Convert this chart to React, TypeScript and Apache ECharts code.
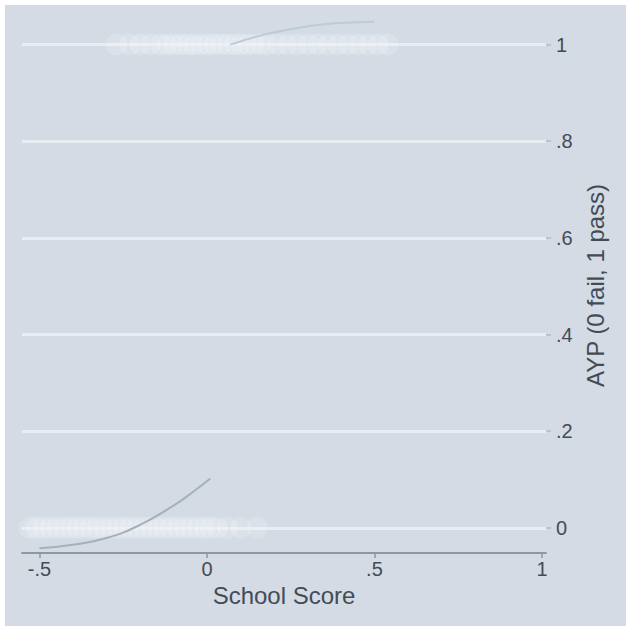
import React, { useEffect, useRef } from "react";
import * as echarts from "echarts";

// Axis ticks and their printed labels
const xTicks = [-0.5, 0, 0.5, 1];
const xTickLabels = ["-.5", "0", ".5", "1"];
const yTicks = [0, 0.2, 0.4, 0.6, 0.8, 1];
const yTickLabels = ["0", ".2", ".4", ".6", ".8", "1"];

// School scores of schools that failed AYP (outcome 0)
const failScores = [
  -0.53, -0.51, -0.49, -0.47, -0.45, -0.43, -0.41, -0.39, -0.37, -0.35,
  -0.33, -0.31, -0.29, -0.27, -0.25, -0.23, -0.21, -0.19, -0.17, -0.15,
  -0.13, -0.11, -0.09, -0.07, -0.05, -0.03, -0.01, 0.01, 0.03, 0.06, 0.1, 0.15,
];
// School scores of schools that passed AYP (outcome 1)
const passScores = [
  -0.27, -0.23, -0.2, -0.17, -0.14, -0.12, -0.1, -0.08, -0.06, -0.04,
  -0.02, 0.0, 0.02, 0.04, 0.06, 0.08, 0.1, 0.12, 0.14, 0.16, 0.18, 0.21,
  0.24, 0.27, 0.3, 0.33, 0.36, 0.39, 0.42, 0.45, 0.48, 0.51, 0.54,
];

// Fitted curves drawn over each group
const fitFailX = [-0.5, -0.4, -0.3, -0.2, -0.1, -0.05, 0.01];
const fitFailY = [-0.042, -0.035, -0.021, 0.006, 0.046, 0.07, 0.102];
const fitPassX = [0.07, 0.15, 0.25, 0.35, 0.45, 0.5];
const fitPassY = [1.0, 1.017, 1.032, 1.042, 1.046, 1.047];

const FONT = "'Liberation Sans', Arial, sans-serif";
const TEXT = "#434c56";

function labelFor(ticks: number[], labels: string[]) {
  return (v: number) => {
    const i = ticks.findIndex((t) => Math.abs(t - v) < 1e-9);
    return i >= 0 ? labels[i] : "";
  };
}

export default function App() {
  const ref = useRef<HTMLDivElement>(null);

  useEffect(() => {
    if (!ref.current) return;
    const chart = echarts.init(ref.current, undefined, { renderer: "svg" });

    const markerStyle = {
      color: "rgba(243,245,248,0.34)",
      borderColor: "rgba(200,223,240,0.4)",
      borderWidth: 1,
    };

    chart.setOption({
      animation: false,
      backgroundColor: "#d4dbe4",
      grid: { left: 17, right: 80, top: 13, bottom: 73, containLabel: false },
      xAxis: {
        type: "value",
        min: -0.552,
        max: 1.012,
        name: "School Score",
        nameLocation: "middle",
        nameGap: 27,
        nameTextStyle: { fontFamily: FONT, fontSize: 24, color: TEXT },
        axisLine: { show: true, onZero: false, lineStyle: { color: "#8e99a4", width: 2 } },
        axisTick: {
          show: true,
          customValues: xTicks,
          length: 5,
          lineStyle: { color: "#8e99a4", width: 1.5 },
        },
        axisLabel: {
          customValues: xTicks,
          formatter: labelFor(xTicks, xTickLabels),
          fontFamily: FONT,
          fontSize: 20,
          color: TEXT,
          margin: 6,
        },
        splitLine: { show: false },
      },
      yAxis: {
        type: "value",
        position: "right",
        min: -0.052,
        max: 1.055,
        name: "AYP (0 fail, 1 pass)",
        nameLocation: "middle",
        nameRotate: 90,
        nameGap: 36,
        nameTextStyle: { fontFamily: FONT, fontSize: 24, color: TEXT },
        axisLine: { show: false, onZero: false },
        axisTick: {
          show: true,
          customValues: yTicks,
          length: 5,
          lineStyle: { color: "#b3bcc6", width: 1.5 },
        },
        axisLabel: {
          customValues: yTicks,
          formatter: labelFor(yTicks, yTickLabels),
          fontFamily: FONT,
          fontSize: 20,
          color: TEXT,
          margin: 10,
        },
        splitLine: { show: true, lineStyle: { color: "#e9eef4", width: 3 } },
      },
      series: [
        {
          type: "scatter",
          symbol: "circle",
          symbolSize: 22,
          itemStyle: markerStyle,
          data: failScores.map((x) => [x, 0]),
          z: 2,
        },
        {
          type: "scatter",
          symbol: "circle",
          symbolSize: 22,
          itemStyle: markerStyle,
          data: passScores.map((x) => [x, 1]),
          z: 2,
        },
        {
          type: "line",
          smooth: true,
          showSymbol: false,
          lineStyle: { color: "#a4b0bd", width: 2 },
          data: fitFailX.map((x, i) => [x, fitFailY[i]]),
          z: 3,
        },
        {
          type: "line",
          smooth: true,
          showSymbol: false,
          lineStyle: { color: "#bccbd8", width: 2 },
          data: fitPassX.map((x, i) => [x, fitPassY[i]]),
          z: 3,
        },
      ],
    });

    return () => chart.dispose();
  }, []);

  return (
    <div
      style={{
        position: "fixed",
        left: 0,
        top: 0,
        width: 626,
        height: 626,
        background: "#ffffff",
      }}
    >
      <div
        ref={ref}
        style={{ position: "absolute", left: 5, top: 5, width: 621, height: 621 }}
      />
    </div>
  );
}
